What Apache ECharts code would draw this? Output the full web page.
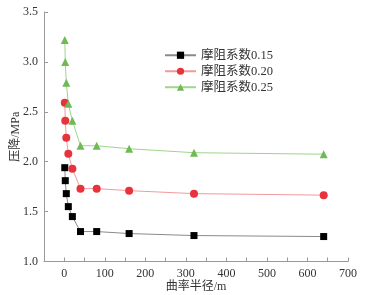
<!DOCTYPE html>
<html><head><meta charset="utf-8">
<script src="https://cdn.jsdelivr.net/npm/echarts@6/dist/echarts.min.js"></script>
<style>html,body{margin:0;padding:0;background:#fff}#c{width:366px;height:295px}</style>
</head><body><div id="c"></div>
<script>
const radius = [1.25, 2.5, 5, 10, 20, 40, 80, 160, 320, 640];
const s015 = [1.94, 1.81, 1.68, 1.55, 1.45, 1.30, 1.30, 1.28, 1.26, 1.25];
const s020 = [2.59, 2.41, 2.24, 2.08, 1.93, 1.73, 1.73, 1.71, 1.68, 1.665];
const s025 = [3.22, 3.00, 2.79, 2.58, 2.41, 2.16, 2.16, 2.13, 2.09, 2.075];
const names = ['摩阻系数0.15', '摩阻系数0.20', '摩阻系数0.25'];
const xTicks = [0, 100, 200, 300, 400, 500, 600, 700];
const yTicks = [1.0, 1.5, 2.0, 2.5, 3.0, 3.5];

const font = '"Liberation Serif","Noto Sans CJK SC",serif';
const pair = v => radius.map((x, i) => [x, v[i]]);
const chart = echarts.init(document.getElementById('c'));
const mk = (name, data, sym, size, lineC, symC) => ({
  name, type: 'line', data: pair(data), symbol: sym, symbolSize: size,
  lineStyle: {color: lineC, width: 1}, itemStyle: {color: symC}, z: 3
});
chart.setOption({
  animation: false,
  textStyle: {fontFamily: font},
  grid: {left: 44, right: 18, top: 12, bottom: 33.5, containLabel: false, outerBoundsMode: 'none'},
  legend: {
    left: 164, top: 49, padding: 0, orient: 'vertical', itemWidth: 31, itemHeight: 9, itemGap: 3.5,
    textStyle: {fontFamily: font, fontSize: 12.5, color: '#333'},
    data: names
  },
  xAxis: {
    type: 'value', min: -50, max: 700, interval: 50,
    name: '曲率半径/m', nameLocation: 'middle', nameGap: 19, nameMoveOverlap: false,
    nameTextStyle: {fontFamily: font, fontSize: 12, color: '#333'},
    axisLine: {onZero: false, lineStyle: {color: '#999'}},
    axisTick: {inside: true, length: 4, lineStyle: {color: '#999'}},
    axisLabel: {fontFamily: font, fontSize: 12, color: '#333', margin: 6,
      formatter: v => xTicks.includes(v) ? String(v) : ''},
    splitLine: {show: false}
  },
  yAxis: {
    type: 'value', min: 1.0, max: 3.5, interval: 0.5,
    name: '压降/MPa', nameLocation: 'middle', nameGap: 22, nameMoveOverlap: false,
    nameTextStyle: {fontFamily: font, fontSize: 12, color: '#333'},
    axisLine: {show: true, onZero: false, lineStyle: {color: '#999'}},
    axisTick: {show: true, inside: true, length: 4, lineStyle: {color: '#999'}},
    axisLabel: {fontFamily: font, fontSize: 12, color: '#333', margin: 6,
      formatter: v => yTicks.includes(+v.toFixed(1)) ? v.toFixed(1) : ''},
    splitLine: {show: false}
  },
  series: [
    mk(names[0], s015, 'rect', 7, '#8a8a8a', '#000'),
    mk(names[1], s020, 'circle', 8, '#f29a9a', '#e8323c'),
    mk(names[2], s025, 'triangle', 8, '#9fd48a', '#6fba55')
  ]
});
</script></body></html>
